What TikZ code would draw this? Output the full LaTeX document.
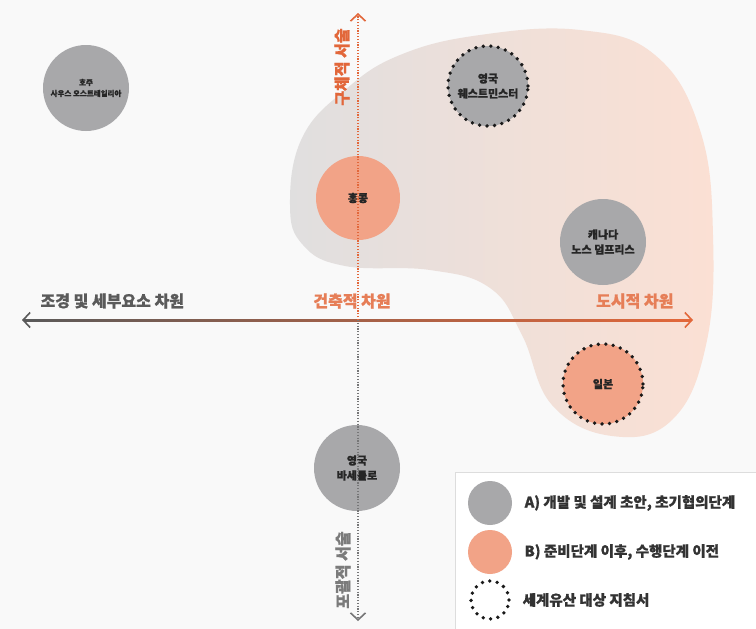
\documentclass[tikz,border=0pt]{standalone}
\usepackage{fontspec}
\setmainfont{Noto Sans CJK KR}[BoldFeatures={FakeBold=0.9}]
\usetikzlibrary{arrows.meta,positioning}

\definecolor{paper}{HTML}{F9F9F9}
\definecolor{stagegray}{HTML}{A8A8AA}
\definecolor{stagesalmon}{HTML}{F2A387}
\definecolor{axorange}{HTML}{E2673A}
\definecolor{axgray}{HTML}{5A5A5A}
\definecolor{blobgray}{HTML}{E0DFDF}
\definecolor{blobpink}{HTML}{FBE0D4}
\definecolor{framegray}{HTML}{DDDDDD}

\begin{document}
\begin{tikzpicture}[
  x=1pt, y=-1pt,
  site/.style={circle, inner sep=0pt, minimum size=86pt, align=center,
    font=\fontsize{11}{15}\selectfont\bfseries, text=black!85},
  early/.style={site, fill=stagegray},
  late/.style={site, fill=stagesalmon},
  heritage/.style={draw=black!90, line width=3.8pt, dash pattern=on 0pt off 7.5pt, line cap=round},
  axlabel/.style={font=\fontsize{16}{18}\selectfont\bfseries},
  legtext/.style={font=\fontsize{14.5}{17}\selectfont\bfseries, text=black!80, right=9pt of #1},
  tip/.style={-{Straight Barb[length=7pt, width=15pt]}, line width=1.6pt},
  vaxis/.style={line width=1.5pt, dash pattern=on 1.2pt off 1.6pt}
]
% page
\fill[paper] (0,0) rectangle (756,629);
\useasboundingbox (0,0) rectangle (756,629);

% cluster of the later cases
\shade[left color=blobgray, right color=blobpink, middle color=blobpink!55!blobgray]
  plot[smooth cycle, tension=0.7] coordinates {
    (290,205) (302,138) (345,90) (400,55) (480,35) (580,30) (655,55)
    (700,130) (713,235) (706,345) (672,420) (612,436) (552,405)
    (522,335) (490,288) (430,270) (345,266) (303,245)};

% cases
\node[early, font=\fontsize{7.5}{11}\selectfont\bfseries] (aus) at (86,88) {호주\\사우스 오스트레일리아};
\node[late, minimum size=84pt] (hk) at (358,198) {홍콩};
\node[early, minimum size=80pt] (wsm) at (488,86) {영국\\웨스트민스터};
\node[early] (can) at (603,242) {캐나다\\노스 덤프리스};
\node[late, minimum size=80pt] (jpn) at (603,384) {일본};
\node[early] (bas) at (357,468) {영국\\바세틀로};
\draw[heritage] (wsm) circle (40pt);
\draw[heritage] (jpn) circle (40pt);

% axes
\coordinate (O) at (358,320);
\coordinate (W) at (22,320);
\coordinate (E) at (693,320);
\coordinate (N) at (358,13);
\coordinate (S) at (358,621);
\shade[left color=axgray, right color=axorange, middle color=axorange!55!axgray]
  (24,319) rectangle (691,321);
\draw[tip, axgray] (40,320) -- (W);
\draw[tip, axorange] (675,320) -- (E);
\draw[vaxis, axorange, tip] (O) -- (N);
\draw[vaxis, stagegray!70!black, tip] (O) -- (S);

% axis labels
\node[axlabel, text=axgray, anchor=west] (land) at (37,301) {조경 및 세부요소 차원};
\node[axlabel, text=axorange!85!white] (arch) at (352,301) {건축적 차원};
\node[axlabel, text=axorange!85!white, anchor=east] (urban) at (677,301) {도시적 차원};
\node[axlabel, text=axorange, rotate=90] (spec) at (342,67) {구체적 서술};
\node[axlabel, text=axgray!80, rotate=90] (comp) at (343,570) {포괄적 서술};

% legend
\draw[framegray, fill=white] (455,472) rectangle (760,634);
\node[circle, fill=stagegray, minimum size=44pt] (legA) at (490,503) {};
\node[circle, fill=stagesalmon, minimum size=44pt] (legB) at (490,552) {};
\node[circle, minimum size=40pt] (legC) at (490,600) {};
\draw[heritage] (legC) circle (19pt);
\node[legtext=legA] (txtA) {A) 개발 및 설계 초안, 초기협의단계};
\node[legtext=legB] (txtB) {B) 준비단계 이후, 수행단계 이전};
\node[legtext=legC] (txtC) {세계유산 대상 지침서};
\end{tikzpicture}
\end{document}
